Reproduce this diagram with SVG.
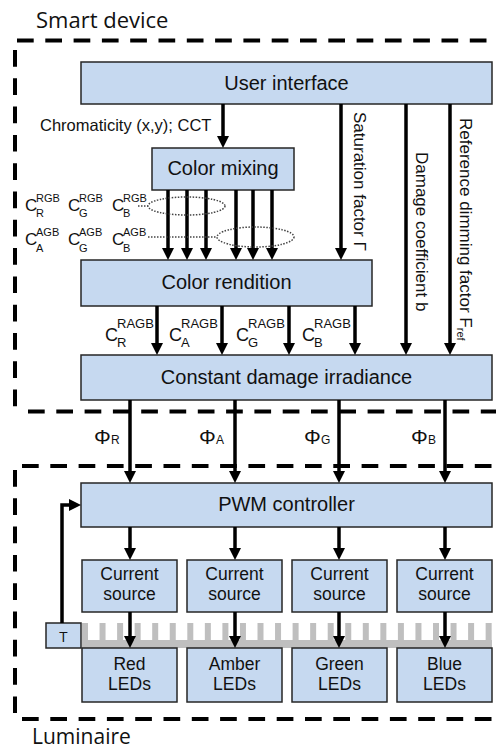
<svg xmlns="http://www.w3.org/2000/svg" width="496" height="751" viewBox="0 0 496 751">
<defs>
<style>
.box{fill:#c6d9f0;stroke:#262626;stroke-width:1.5}
.t{font-family:"Liberation Sans",Arial,sans-serif;fill:#111}
.o{font-family:"Open Sans","Noto Sans",sans-serif;fill:#111}
.m{text-anchor:middle}
.c{stroke:#000;stroke-width:3.5;fill:none}
.a{marker-end:url(#ah)}
.dash{stroke:#000;stroke-width:4;stroke-dasharray:16.7 11.6;fill:none}
.dot{stroke:#444;stroke-width:1.5;stroke-dasharray:1.5 1.5;fill:none}
.sink{fill:#bfbfbf}
.two{font-family:"Liberation Sans",Arial,sans-serif;fill:#111;font-size:17.5px;text-anchor:middle}
</style>
<marker id="ah" markerUnits="userSpaceOnUse" markerWidth="12" markerHeight="12" viewBox="0 0 12 12" refX="2" refY="6" orient="auto">
<path d="M0,0 L12,6 L0,12 z" fill="#000"/>
</marker>
</defs>
<rect width="496" height="751" fill="#fff"/>

<g id="frames">
<path class="dash" d="M17,40.5 H496"/>
<path class="dash" d="M15,50 V411"/>
<path class="dash" d="M28,411.5 H496"/>
<path class="dash" d="M22,466 H496"/>
<path class="dash" d="M15,470 V719"/>
<path class="dash" d="M22,719 H496"/>
<text class="o" x="36" y="28" font-size="22">Smart device</text>
<text class="o" x="32" y="744" font-size="21">Luminaire</text>
</g>

<g id="heatsink">
<rect class="sink" x="82" y="640" width="410" height="8"/>
<path class="sink" d="M82,623h6v18h-6z M99.55,623h6v18h-6z M117.1,623h6v18h-6z M134.65,623h6v18h-6z M152.2,623h6v18h-6z M169.75,623h6v18h-6z M187.3,623h6v18h-6z M204.85,623h6v18h-6z M222.4,623h6v18h-6z M239.95,623h6v18h-6z M257.5,623h6v18h-6z M275.05,623h6v18h-6z M292.6,623h6v18h-6z M310.15,623h6v18h-6z M327.7,623h6v18h-6z M345.25,623h6v18h-6z M362.8,623h6v18h-6z M380.35,623h6v18h-6z M397.9,623h6v18h-6z M415.45,623h6v18h-6z M433,623h6v18h-6z M450.55,623h6v18h-6z M468.1,623h6v18h-6z M485.65,623h6v18h-6z"/>
</g>

<g id="user-interface">
<rect class="box" x="81" y="62" width="411" height="42"/>
<text class="t m" x="286.5" y="90" font-size="20">User interface</text>
</g>
<g id="color-mixing">
<rect class="box" x="152" y="148" width="142" height="42"/>
<text class="t m" x="223" y="175" font-size="20">Color mixing</text>
</g>
<g id="color-rendition">
<rect class="box" x="81" y="260" width="291" height="46"/>
<text class="t m" x="226.5" y="289" font-size="20">Color rendition</text>
</g>
<g id="constant-damage">
<rect class="box" x="81" y="355" width="411" height="45"/>
<text class="t m" x="286.5" y="384" font-size="20">Constant damage irradiance</text>
</g>
<g id="pwm">
<rect class="box" x="81" y="483" width="411" height="44"/>
<text class="t m" x="286.5" y="511" font-size="20">PWM controller</text>
</g>
<g id="cs-r"><rect class="box" x="82" y="560" width="95" height="52"/><text class="two"><tspan x="129.5" y="580">Current</tspan><tspan x="129.5" y="600">source</tspan></text></g>
<g id="cs-a"><rect class="box" x="187" y="560" width="95" height="52"/><text class="two"><tspan x="234.5" y="580">Current</tspan><tspan x="234.5" y="600">source</tspan></text></g>
<g id="cs-g"><rect class="box" x="292" y="560" width="95" height="52"/><text class="two"><tspan x="339.5" y="580">Current</tspan><tspan x="339.5" y="600">source</tspan></text></g>
<g id="cs-b"><rect class="box" x="397" y="560" width="95" height="52"/><text class="two"><tspan x="444.5" y="580">Current</tspan><tspan x="444.5" y="600">source</tspan></text></g>
<g id="led-r"><rect class="box" x="82" y="648" width="95" height="54"/><text class="two"><tspan x="129.5" y="670">Red</tspan><tspan x="129.5" y="690">LEDs</tspan></text></g>
<g id="led-a"><rect class="box" x="187" y="648" width="95" height="54"/><text class="two"><tspan x="234.5" y="670">Amber</tspan><tspan x="234.5" y="690">LEDs</tspan></text></g>
<g id="led-g"><rect class="box" x="292" y="648" width="95" height="54"/><text class="two"><tspan x="339.5" y="670">Green</tspan><tspan x="339.5" y="690">LEDs</tspan></text></g>
<g id="led-b"><rect class="box" x="397" y="648" width="95" height="54"/><text class="two"><tspan x="444.5" y="670">Blue</tspan><tspan x="444.5" y="690">LEDs</tspan></text></g>
<g id="temp-sensor">
<rect class="box" x="46" y="623" width="35" height="25"/>
<text class="o m" x="63.5" y="642" font-size="15">T</text>
</g>

<g id="connectors">
<path class="c a" d="M223,104 V138"/>
<path class="c a" d="M168,190 V250"/>
<path class="c a" d="M187,190 V250"/>
<path class="c a" d="M206,190 V250"/>
<path class="c a" d="M236,190 V250"/>
<path class="c a" d="M253,190 V250"/>
<path class="c a" d="M272,190 V250"/>
<path class="c a" d="M341,104 V250"/>
<path class="c a" d="M406,104 V345"/>
<path class="c a" d="M450,104 V345"/>
<path class="c a" d="M157,306 V345"/>
<path class="c a" d="M222,306 V345"/>
<path class="c a" d="M289,306 V345"/>
<path class="c a" d="M355,306 V345"/>
<path class="c a" d="M130,400 V473"/>
<path class="c a" d="M235,400 V473"/>
<path class="c a" d="M339,400 V473"/>
<path class="c a" d="M445,400 V473"/>
<path class="c a" d="M130,527 V550"/>
<path class="c a" d="M235,527 V550"/>
<path class="c a" d="M339,527 V550"/>
<path class="c a" d="M445,527 V550"/>
<path class="c a" d="M130,612 V638"/>
<path class="c a" d="M235,612 V638"/>
<path class="c a" d="M339,612 V638"/>
<path class="c a" d="M445,612 V638"/>
<path class="c a" d="M62,623 V505 H71"/>
<path class="dot" d="M138,206 H148"/>
<ellipse class="dot" cx="186.5" cy="206" rx="38.5" ry="9"/>
<path class="dot" d="M148,237 H217"/>
<ellipse class="dot" cx="255.5" cy="237" rx="38.5" ry="10"/>
</g>

<g id="labels">
<text class="t" x="40" y="131" font-size="16.5">Chromaticity (x,y); CCT</text>
<text class="t" transform="translate(354,112) rotate(90)" font-size="17">Saturation factor Γ</text>
<text class="t" transform="translate(416,152) rotate(90)" font-size="17">Damage coefficient b</text>
<text class="t" transform="translate(460,118) rotate(90)" font-size="17">Reference dimming factor F<tspan dy="3" font-size="11">ref</tspan></text>

<text class="t" x="25" y="211" font-size="17">C<tspan x="36" y="202" font-size="11">RGB</tspan><tspan x="36" y="217" font-size="11">R</tspan></text>
<text class="t" x="68" y="211" font-size="17">C<tspan x="79" y="202" font-size="11">RGB</tspan><tspan x="79" y="217" font-size="11">G</tspan></text>
<text class="t" x="112" y="211" font-size="17">C<tspan x="123" y="202" font-size="11">RGB</tspan><tspan x="123" y="217" font-size="11">B</tspan></text>
<text class="t" x="25" y="245" font-size="17">C<tspan x="36" y="236" font-size="11">AGB</tspan><tspan x="36" y="252" font-size="11">A</tspan></text>
<text class="t" x="68" y="245" font-size="17">C<tspan x="79" y="236" font-size="11">AGB</tspan><tspan x="79" y="252" font-size="11">G</tspan></text>
<text class="t" x="112" y="245" font-size="17">C<tspan x="123" y="236" font-size="11">AGB</tspan><tspan x="123" y="252" font-size="11">B</tspan></text>

<text class="t" x="105" y="341" font-size="18">C<tspan x="117" y="328" font-size="13">RAGB</tspan><tspan x="117" y="347" font-size="13">R</tspan></text>
<text class="t" x="169" y="341" font-size="18">C<tspan x="181" y="328" font-size="13">RAGB</tspan><tspan x="181" y="347" font-size="13">A</tspan></text>
<text class="t" x="236" y="341" font-size="18">C<tspan x="248" y="328" font-size="13">RAGB</tspan><tspan x="248" y="347" font-size="13">G</tspan></text>
<text class="t" x="302" y="341" font-size="18">C<tspan x="314" y="328" font-size="13">RAGB</tspan><tspan x="314" y="347" font-size="13">B</tspan></text>

<text class="t" x="94" y="444" font-size="21">Φ<tspan x="111" font-size="12">R</tspan></text>
<text class="t" x="199" y="444" font-size="21">Φ<tspan x="216" font-size="12">A</tspan></text>
<text class="t" x="304" y="444" font-size="21">Φ<tspan x="321" font-size="12">G</tspan></text>
<text class="t" x="411" y="444" font-size="21">Φ<tspan x="428" font-size="12">B</tspan></text>
</g>
</svg>
